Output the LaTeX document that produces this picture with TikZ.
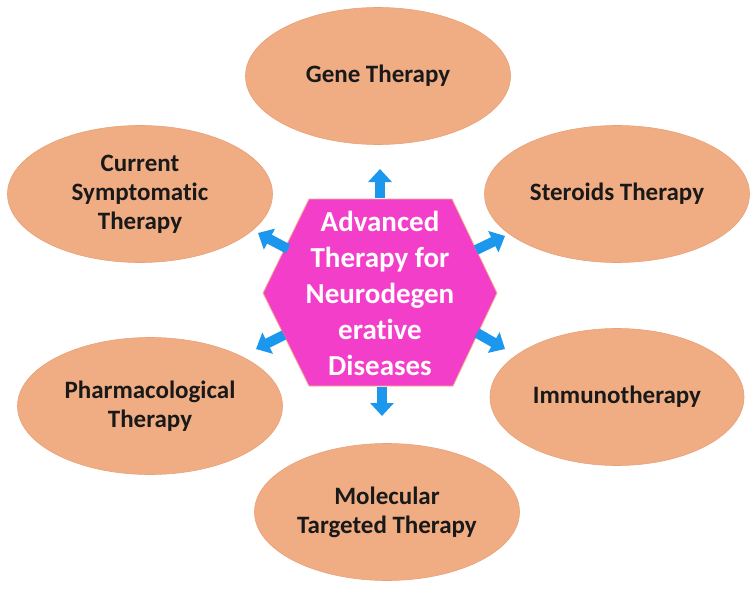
\documentclass[tikz,border=0pt]{standalone}
\usepackage{fontspec}
\setmainfont{Carlito}[Ligatures=NoCommon]
\usetikzlibrary{shapes.geometric,arrows.meta}
\definecolor{peach}{HTML}{F0AD83}
\definecolor{peachedge}{HTML}{E9A177}
\definecolor{magent}{HTML}{F23EC8}
\definecolor{arrowblue}{HTML}{1B98EE}
\definecolor{hexedge}{HTML}{F5B08A}
\tikzset{
  oval/.style={ellipse, fill=peach, draw=peachedge, line width=0.6pt, inner sep=0pt,
    align=center, text=black!90, font=\bfseries\fontsize{25}{29}\selectfont,
    minimum width=265, minimum height=137},
  bluearrow/.style={draw=arrowblue, line width=10pt,
    -{Triangle[width=23pt,length=13pt]}},
  hextext/.style={align=center, text=white, font=\bfseries\fontsize{29}{36}\selectfont}
}
\begin{document}
\begin{tikzpicture}[x=1pt,y=-1pt]
\useasboundingbox[fill=white] (0,0) rectangle (755,591);
% ellipses
\node[oval] (gene) at (378,76) {Gene Therapy};
\node[oval] (curr) at (140,194) {Current\\Symptomatic\\Therapy};
\node[oval] (ster) at (617,194) {Steroids Therapy};
\node[oval] (pharm) at (150,406) {Pharmacological\\Therapy};
\node[oval, minimum width=254] (immu) at (617,397) {Immunotherapy};
\node[oval] (molec) at (387,512) {Molecular\\Targeted Therapy};
% hexagon
\coordinate (hl) at (263,293);
\coordinate (htl) at (309,199);
\coordinate (htr) at (452,199);
\coordinate (hr) at (497,293);
\coordinate (hbr) at (453,386);
\coordinate (hbl) at (309,386);
\draw[fill=magent, draw=hexedge, line width=0.8pt] (hl) -- (htl) -- (htr) -- (hr) -- (hbr) -- (hbl) -- cycle;
\node[hextext] (hex) at (380,293) {Advanced\\Therapy for\\Neurodegen\\erative\\Diseases};
% arrow ends
\coordinate (aUs) at (380,198);  \coordinate (aUe) at (380,169);
\coordinate (aDs) at (382,387);  \coordinate (aDe) at (382,416);
\coordinate (aULs) at (288,249); \coordinate (aULe) at (258,233);
\coordinate (aURs) at (476,250); \coordinate (aURe) at (505,236);
\coordinate (aDLs) at (284,335); \coordinate (aDLe) at (256,349);
\coordinate (aDRs) at (477,333); \coordinate (aDRe) at (505,349);
\foreach \a in {U,D,UL,UR,DL,DR} {
  \draw[bluearrow] (a\a s) -- (a\a e);
}
\end{tikzpicture}
\end{document}
